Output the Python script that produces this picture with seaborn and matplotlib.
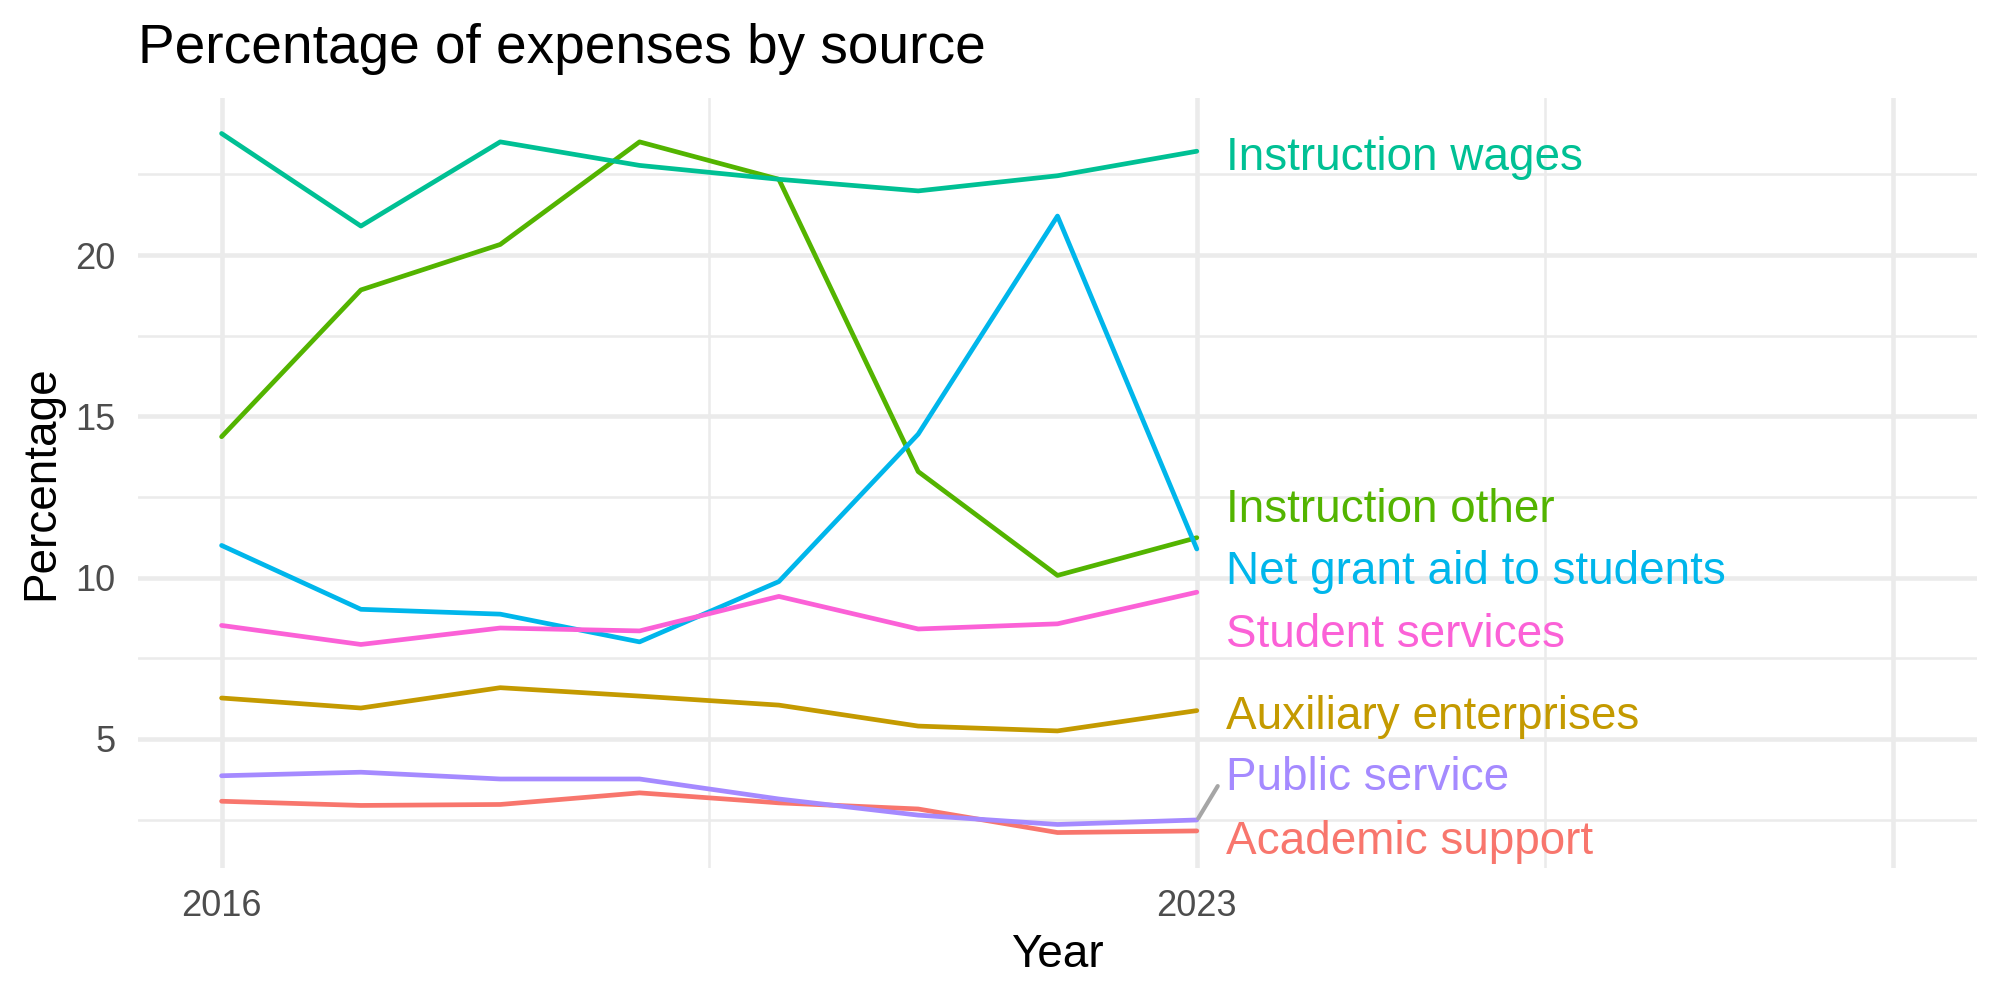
import numpy as np
import pandas as pd
import matplotlib
matplotlib.use("Agg")
import matplotlib.pyplot as plt
import seaborn as sns

years = [2016, 2017, 2018, 2019, 2020, 2021, 2022, 2023]

academic_support = [3.07, 2.94, 2.97, 3.33, 3.02, 2.83, 2.10, 2.15]
auxiliary_enterprises = [6.27, 5.96, 6.59, 6.33, 6.05, 5.40, 5.25, 5.88]
instruction_other = [14.37, 18.92, 20.33, 23.51, 22.35, 13.29, 10.07, 11.24]
instruction_wages = [23.77, 20.90, 23.51, 22.78, 22.35, 21.99, 22.46, 23.22]
net_grant_aid = [11.00, 9.02, 8.87, 8.01, 9.88, 14.45, 21.21, 10.89]
public_service = [3.86, 3.97, 3.76, 3.76, 3.14, 2.64, 2.35, 2.49]
student_services = [8.52, 7.93, 8.44, 8.35, 9.42, 8.41, 8.57, 9.55]

sources = ["Academic support", "Auxiliary enterprises", "Instruction other",
           "Instruction wages", "Net grant aid to students", "Public service",
           "Student services"]
colors = ["#F8766D", "#C49A00", "#53B400", "#00C094", "#00B6EB", "#A58AFF", "#FB61D7"]

# where the repelled labels ended up (percentage units)
label_y = [1.81, 5.69, 12.10, 23.01, 10.18, 3.80, 8.23]

values = [academic_support, auxiliary_enterprises, instruction_other,
          instruction_wages, net_grant_aid, public_service, student_services]

df = pd.DataFrame({
    "Year": np.tile(years, len(sources)),
    "Percentage": np.concatenate(values),
    "Source": np.repeat(sources, len(years)),
})

sns.set_theme(style="white")
plt.rcParams["font.family"] = ["Liberation Sans", "DejaVu Sans"]

fig = plt.figure(figsize=(20, 10), dpi=100)
ax = fig.add_axes([0.069, 0.1323, 0.9195, 0.7697])

palette = dict(zip(sources, colors))
sns.lineplot(data=df, x="Year", y="Percentage", hue="Source", palette=palette,
             linewidth=3.4, legend=False, ax=ax, zorder=3)

# labels at the line ends
last_year = years[-1]
for name, col, ly in zip(sources, colors, label_y):
    ax.text(last_year + 0.21, ly, name, color=col, fontsize=33,
            ha="left", va="center", zorder=4)

# little repel segment for Public service
ps_end = public_service[-1]
ax.plot([last_year + 0.01, last_year + 0.15], [ps_end + 0.05, ps_end + 1.05],
        color="#A6A6A6", lw=3, solid_capstyle="round", zorder=4)

ax.set_xlim(2015.4, 2028.6)
ax.set_ylim(1.01, 24.87)

ax.set_xticks([2016, 2023, 2028])
ax.set_xticklabels(["2016", "2023", ""])
ax.set_xticks([2019.5, 2025.5], minor=True)
ax.set_yticks([5, 10, 15, 20])
ax.set_yticks([2.5, 7.5, 12.5, 17.5, 22.5], minor=True)

ax.grid(which="major", color="#EBEBEB", linewidth=3.3, zorder=0)
ax.grid(which="minor", color="#EBEBEB", linewidth=1.8, zorder=0)
ax.set_axisbelow(True)
for s in ax.spines.values():
    s.set_visible(False)
ax.tick_params(which="both", length=0)
ax.tick_params(axis="x", labelsize=26, labelcolor="#4D4D4D", pad=15)
ax.tick_params(axis="y", labelsize=26, labelcolor="#4D4D4D", pad=16)

ax.set_xlabel("Year", fontsize=33, color="black")
ax.set_ylabel("Percentage", fontsize=33, color="black")
ax.xaxis.set_label_coords(0.5, -0.085)
ax.yaxis.set_label_coords(-0.0405, 0.5)

fig.text(0.069, 1 - 63 / 1000, "Percentage of expenses by source",
         fontsize=39.6, ha="left", va="baseline", color="black")

fig.savefig("out.png", dpi=100)
